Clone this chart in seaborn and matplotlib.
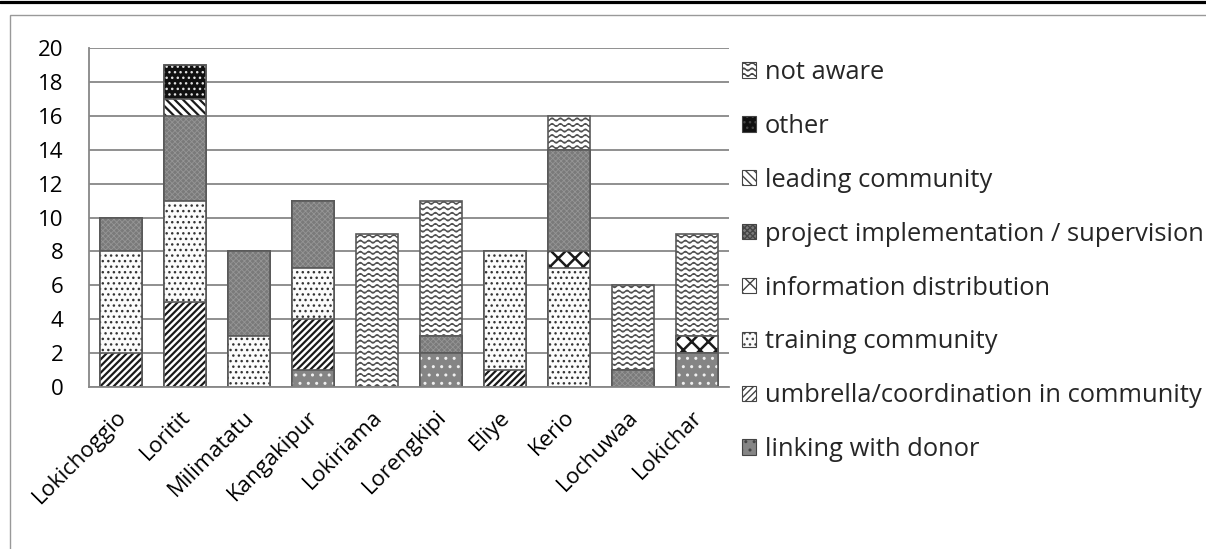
import warnings
warnings.filterwarnings("ignore")
import numpy as np
import matplotlib
matplotlib.use("Agg")
import matplotlib.pyplot as plt
import matplotlib.hatch as mhatch
import matplotlib.transforms as mtransforms
from matplotlib.path import Path
from matplotlib.patches import Patch, Rectangle
from matplotlib.lines import Line2D
import seaborn as sns

# ---------------- data ----------------
categories = ["Lokichoggio", "Loritit", "Milimatatu", "Kangakipur", "Lokiriama",
              "Lorengkipi", "Eliye", "Kerio", "Lochuwaa", "Lokichar"]
linking_with_donor = [0, 0, 0, 1, 0, 2, 0, 0, 0, 2]
umbrella_coordination = [2, 5, 0, 3, 0, 0, 1, 0, 0, 0]
training_community = [6, 6, 3, 3, 0, 0, 7, 7, 0, 0]
information_distribution = [0, 0, 0, 0, 0, 0, 0, 1, 0, 1]
project_implementation = [2, 5, 5, 4, 0, 1, 0, 6, 1, 0]
leading_community = [0, 1, 0, 0, 0, 0, 0, 0, 0, 0]
other = [0, 2, 0, 0, 0, 0, 0, 0, 0, 0]
not_aware = [0, 0, 0, 0, 9, 8, 0, 2, 5, 6]

series_names = ["linking with donor", "umbrella/coordination in community",
                "training community", "information distribution",
                "project implementation / supervision", "leading community",
                "other", "not aware"]
series_values = [linking_with_donor, umbrella_coordination, training_community,
                 information_distribution, project_implementation,
                 leading_community, other, not_aware]
y_ticks = [0, 2, 4, 6, 8, 10, 12, 14, 16, 18, 20]


# ---------------- custom wavy hatch ----------------
class WaveHatch(mhatch.HatchPatternBase):
    def __init__(self, hatch, density):
        self.num_rows = int(hatch.count('~') * density)
        self.periods = 12
        self.pts = 8 * self.periods + 1
        self.num_vertices = self.num_rows * self.pts

    def set_vertices_and_codes(self, vertices, codes):
        if self.num_rows == 0:
            return
        steps, step = np.linspace(0.0, 1.0, self.num_rows, False, retstep=True)
        steps += step / 2.0
        xs = np.linspace(0.0, 1.0, self.pts)
        amp = step * 0.25
        offs = amp * np.sin(2 * np.pi * self.periods * xs)
        for i, yy in enumerate(steps):
            sl = slice(i * self.pts, (i + 1) * self.pts)
            vertices[sl, 0] = xs
            vertices[sl, 1] = yy + offs
            codes[sl] = Path.LINETO
            codes[i * self.pts] = Path.MOVETO


mhatch._hatch_types.append(WaveHatch)

# style per series: (face, hatch colour, hatch, hatch linewidth)
styles = {
    "linking with donor": ("#858585", "#f0f0f0", "..", 1.0),
    "umbrella/coordination in community": ("#ffffff", "#1a1a1a", "/////", 1.6),
    "training community": ("#fbfbfb", "#333333", "...", 1.0),
    "information distribution": ("#ffffff", "#1a1a1a", "xx", 1.8),
    "project implementation / supervision": ("#7a7a7a", "#959595", "xxxxxx", 0.6),
    "leading community": ("#ffffff", "#1a1a1a", "\\\\\\\\", 1.6),
    "other": ("#101010", "#e0e0e0", "...", 1.0),
    "not aware": ("#ffffff", "#505050", "~~~", 1.0),
}

# ---------------- figure ----------------
sns.set_theme(style="white")
plt.rcParams['font.family'] = ['Open Sans', 'DejaVu Sans']

W, H = 1206, 549
fig = plt.figure(figsize=(W / 100, H / 100), dpi=100)
fig.patch.set_facecolor("white")
ax = fig.add_axes([89 / W, 1 - 387 / H, 640 / W, 339 / H])

cum = np.cumsum(np.array(series_values, dtype=float), axis=0)
bar_w = 0.65
outline = "#5a5a5a"

for i in range(len(series_names) - 1, -1, -1):
    name = series_names[i]
    face, hcol, hatch, hlw = styles[name]
    n0 = len(ax.patches)
    sns.barplot(x=categories, y=cum[i], color=face, saturation=1, width=bar_w,
                ax=ax, order=categories, errorbar=None, legend=False)
    for p in ax.patches[n0:]:
        p.set_facecolor(face)
        p.set_edgecolor(hcol)
        p.set_linewidth(0)
        p.set_hatch(hatch)
        if hasattr(p, "set_hatch_linewidth"):
            p.set_hatch_linewidth(hlw)
    n1 = len(ax.patches)
    sns.barplot(x=categories, y=cum[i], color=face, saturation=1, width=bar_w,
                ax=ax, order=categories, errorbar=None, legend=False)
    for p in ax.patches[n1:]:
        p.set_facecolor("none")
        p.set_edgecolor(outline)
        p.set_linewidth(1.2)
        p.set_hatch(None)

ax.set_xlim(-0.5, len(categories) - 0.5)
ax.set_ylim(0, 20)
ax.set_yticks(y_ticks)
ax.set_yticklabels([str(t) for t in y_ticks])
ax.yaxis.grid(True, color="#878787", linewidth=1.3)
ax.set_axisbelow(True)
for s in ["top", "right"]:
    ax.spines[s].set_visible(False)
for s in ["left", "bottom"]:
    ax.spines[s].set_color("#878787")
    ax.spines[s].set_linewidth(1.3)
ax.tick_params(axis="y", length=0, pad=18.5, labelsize=16, labelcolor="black")
ax.tick_params(axis="x", length=0, pad=19.5, labelsize=16, labelcolor="black")
ax.set_xticks(range(len(categories)))
ax.set_xticklabels(categories, rotation=45, ha="right", va="center",
                   rotation_mode="anchor")
shift = mtransforms.ScaledTranslation(2 / 100, 0, fig.dpi_scale_trans)
for lab in ax.get_xticklabels():
    lab.set_transform(lab.get_transform() + shift)
ax.set_xlabel("")
ax.set_ylabel("")

# ---------------- legend ----------------
handles = []
for name in series_names[::-1]:
    face, hcol, hatch, hlw = styles[name]
    h = Patch(facecolor=face, edgecolor=hcol, hatch=hatch, linewidth=0.8, label=name)
    handles.append(h)
leg = fig.legend(handles=handles, loc="upper left",
                 bbox_to_anchor=(742 / W, 1 - 60 / H), frameon=False,
                 fontsize=18.4, handlelength=0.55, handleheight=0.55,
                 handletextpad=0.35, labelspacing=1.13, borderaxespad=0,
                 borderpad=0)
for h in leg.legend_handles:
    h.set_edgecolor("#444444")

# ---------------- frame ----------------
fig.add_artist(Rectangle((10 / W, -0.5), 2.0, 1.5 - 15 / H, transform=fig.transFigure,
                         fill=False, edgecolor="#999999", linewidth=1.0, clip_on=False))
fig.add_artist(Line2D([0, 1], [1 - 1.5 / H, 1 - 1.5 / H], transform=fig.transFigure,
                      color="black", linewidth=2.3))

fig.savefig("out.png", dpi=100)
